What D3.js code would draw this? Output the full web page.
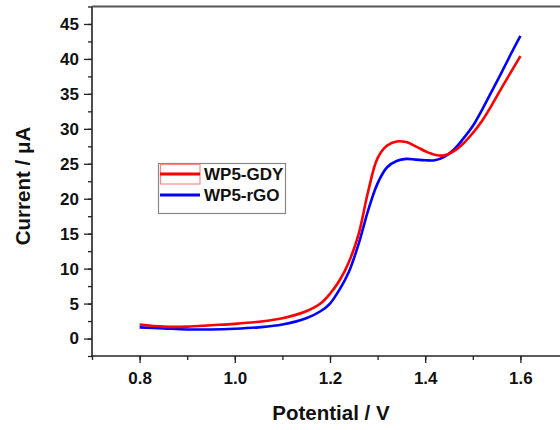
<!DOCTYPE html>
<html>
<head>
<meta charset="utf-8">
<script src="https://cdn.jsdelivr.net/npm/d3@7/dist/d3.min.js"></script>
<style>
  html, body { margin: 0; padding: 0; background: #fff; }
  svg { display: block; }
  text { font-family: "Liberation Sans", Arial, sans-serif; font-weight: bold; fill: #111; }
</style>
</head>
<body>
<svg id="chart" width="560" height="430"></svg>
<script>
// Potential (V) sampling points shared by both sweeps
const potential = [0.80, 0.85, 0.90, 0.95, 1.00, 1.05, 1.10, 1.15, 1.18, 1.20,
                   1.22, 1.24, 1.26, 1.28, 1.30, 1.32, 1.34, 1.36, 1.38, 1.40,
                   1.42, 1.44, 1.46, 1.48, 1.50, 1.52, 1.54, 1.56, 1.58, 1.60];

// Current (µA) for each electrode
const currentGDY = [2.0, 1.7, 1.7, 1.9, 2.1, 2.4, 2.9, 3.9, 5.0, 6.4,
                    8.3, 11.0, 14.9, 21.0, 25.8, 27.6, 28.2, 28.1, 27.5, 26.8,
                    26.3, 26.2, 26.8, 27.9, 29.4, 31.2, 33.4, 35.8, 38.1, 40.4];
const currentRGO = [1.6, 1.45, 1.3, 1.3, 1.4, 1.6, 2.0, 2.9, 3.9, 5.0,
                    7.0, 9.6, 13.5, 18.3, 22.2, 24.5, 25.4, 25.7, 25.6, 25.5,
                    25.5, 26.0, 27.0, 28.6, 30.4, 32.8, 35.4, 38.0, 40.7, 43.3];

const seriesNames = ["WP5-GDY", "WP5-rGO"];
const seriesColors = ["#ff0000", "#0000ff"];

const xTicks = [0.8, 1.0, 1.2, 1.4, 1.6];
const yTicks = [0, 5, 10, 15, 20, 25, 30, 35, 40, 45];

const svg = d3.select("#chart");
const plotL = 92, plotT = 6.5, plotR = 568, plotB = 356;

const x = d3.scaleLinear().domain([0.7, 1.7]).range([plotL, plotR]);
const y = d3.scaleLinear().domain([-2.5, 47.5]).range([plotB, plotT]);

// minor ticks (no labels)
const xMinor = d3.range(0.7, 1.71, 0.1).map(v => +v.toFixed(2));
const yMinor = d3.range(-2.5, 47.6, 2.5).map(v => +v.toFixed(2));

svg.append("g")
  .attr("transform", `translate(0,${plotB})`)
  .call(d3.axisBottom(x).tickValues(xMinor).tickSize(4).tickFormat(""))
  .call(g => g.select(".domain").remove())
  .selectAll("line").attr("stroke", "#222").attr("stroke-width", 1.3);

svg.append("g")
  .attr("transform", `translate(${plotL},0)`)
  .call(d3.axisLeft(y).tickValues(yMinor).tickSize(4).tickFormat(""))
  .call(g => g.select(".domain").remove())
  .selectAll("line").attr("stroke", "#222").attr("stroke-width", 1.3);

// major axes
const xAxis = svg.append("g")
  .attr("transform", `translate(0,${plotB})`)
  .call(d3.axisBottom(x).tickValues(xTicks).tickSize(7).tickPadding(9)
        .tickFormat(d3.format(".1f")));
xAxis.select(".domain").remove();
xAxis.selectAll("line").attr("stroke", "#222").attr("stroke-width", 1.3);
xAxis.selectAll("text").attr("font-size", 17).attr("fill", "#111")
  .attr("font-family", "Liberation Sans, Arial, sans-serif").attr("font-weight", "bold");

const yAxis = svg.append("g")
  .attr("transform", `translate(${plotL},0)`)
  .call(d3.axisLeft(y).tickValues(yTicks).tickSize(8).tickPadding(5)
        .tickFormat(d3.format("d")));
yAxis.select(".domain").remove();
yAxis.selectAll("line").attr("stroke", "#222").attr("stroke-width", 1.3);
yAxis.selectAll("text").attr("font-size", 17).attr("fill", "#111")
  .attr("font-family", "Liberation Sans, Arial, sans-serif").attr("font-weight", "bold");

// frame lines
svg.append("line").attr("x1", plotL).attr("x2", plotR).attr("y1", plotB).attr("y2", plotB)
  .attr("stroke", "#222").attr("stroke-width", 1.6);
svg.append("line").attr("x1", plotL).attr("x2", plotL).attr("y1", plotT).attr("y2", plotB)
  .attr("stroke", "#222").attr("stroke-width", 1.6);
svg.append("line").attr("x1", plotL).attr("x2", plotR).attr("y1", plotT).attr("y2", plotT)
  .attr("stroke", "#555").attr("stroke-width", 2);
svg.append("line").attr("x1", plotR).attr("x2", plotR).attr("y1", plotT).attr("y2", plotB)
  .attr("stroke", "#555").attr("stroke-width", 2);

// curves
const line = d3.line()
  .x(d => x(d[0]))
  .y(d => y(d[1]))
  .curve(d3.curveCatmullRom.alpha(0.5));

[currentRGO, currentGDY].forEach((vals, i) => {
  const color = i === 0 ? seriesColors[1] : seriesColors[0];
  svg.append("path")
    .datum(potential.map((p, k) => [p, vals[k]]))
    .attr("fill", "none")
    .attr("stroke", color)
    .attr("stroke-width", 2.6)
    .attr("stroke-linejoin", "round")
    .attr("d", line);
});

// legend
const lg = svg.append("g");
lg.append("rect").attr("x", 158.5).attr("y", 163.5).attr("width", 127).attr("height", 50)
  .attr("fill", "#fff").attr("stroke", "#888").attr("stroke-width", 1.2);
lg.append("rect").attr("x", 160.5).attr("y", 164.5).attr("width", 39.5).attr("height", 19.5)
  .attr("fill", "none").attr("stroke", "#ff8a8a").attr("stroke-width", 1.2);
const legendRows = [174, 195];
seriesNames.forEach((name, i) => {
  lg.append("line").attr("x1", 160).attr("x2", 200)
    .attr("y1", legendRows[i]).attr("y2", legendRows[i])
    .attr("stroke", seriesColors[i]).attr("stroke-width", 2.8);
  lg.append("text").attr("x", 204).attr("y", legendRows[i] + 6)
    .attr("font-size", 17).text(name);
});

// axis titles
svg.append("text").attr("x", 331).attr("y", 419.5).attr("text-anchor", "middle")
  .attr("font-size", 20.5).text("Potential / V");
svg.append("text")
  .attr("transform", "translate(30,186) rotate(-90)")
  .attr("text-anchor", "middle")
  .attr("font-size", 20.5).text("Current / μA");
</script>
</body>
</html>
